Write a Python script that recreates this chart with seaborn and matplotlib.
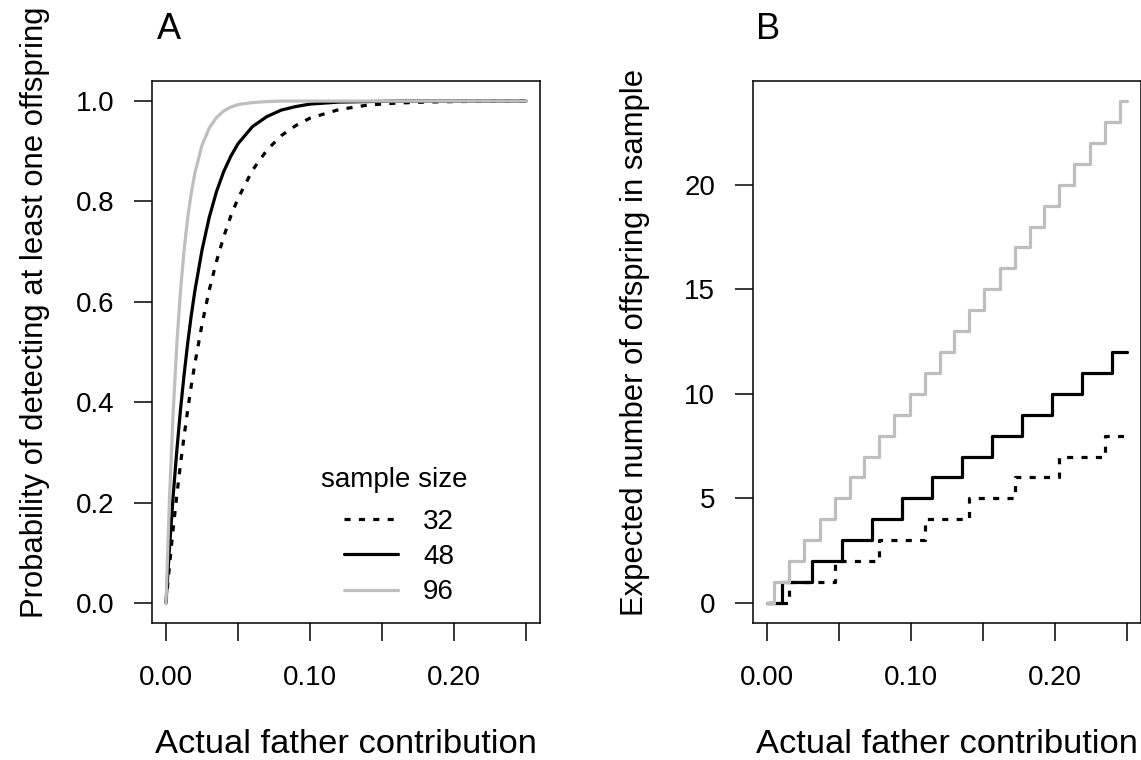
import numpy as np
import pandas as pd
import matplotlib
matplotlib.use("Agg")
import matplotlib.pyplot as plt
import seaborn as sns

# ---------------- data ----------------
sample_sizes = ["32", "48", "96"]

# Panel A: probability of detecting at least one offspring
contrib_a = [0, 0.0025, 0.005, 0.0075, 0.01, 0.0125, 0.015, 0.0175, 0.02, 0.025,
             0.03, 0.035, 0.04, 0.045, 0.05, 0.06, 0.07, 0.08, 0.09, 0.10,
             0.12, 0.14, 0.16, 0.18, 0.20, 0.25]
prob_32 = [0, 0.077, 0.148, 0.214, 0.275, 0.331, 0.383, 0.432, 0.476, 0.555,
           0.623, 0.680, 0.729, 0.771, 0.806, 0.862, 0.902, 0.931, 0.951, 0.966,
           0.983, 0.992, 0.996, 0.998, 0.999, 1.000]
prob_48 = [0, 0.113, 0.214, 0.303, 0.383, 0.453, 0.516, 0.572, 0.621, 0.703,
           0.768, 0.819, 0.859, 0.890, 0.915, 0.949, 0.969, 0.982, 0.989, 0.994,
           0.998, 0.999, 1.000, 1.000, 1.000, 1.000]
prob_96 = [0, 0.214, 0.382, 0.515, 0.619, 0.701, 0.766, 0.816, 0.856, 0.912,
           0.946, 0.967, 0.980, 0.988, 0.993, 0.997, 0.999, 1.000, 1.000, 1.000,
           1.000, 1.000, 1.000, 1.000, 1.000, 1.000]

# Panel B: expected number of offspring (step positions and levels)
steps_32 = [0.0156, 0.0469, 0.0781, 0.1094, 0.1406, 0.1719, 0.2031, 0.2344]
count_32 = [0, 1, 2, 3, 4, 5, 6, 7, 8]
steps_48 = [0.0104, 0.0313, 0.0521, 0.0729, 0.0938, 0.1146, 0.1354, 0.1563,
            0.1771, 0.1979, 0.2188, 0.2396]
count_48 = [0, 1, 2, 3, 4, 5, 6, 7, 8, 9, 10, 11, 12]
steps_96 = [0.0052, 0.0156, 0.0260, 0.0365, 0.0469, 0.0573, 0.0677, 0.0781,
            0.0885, 0.0990, 0.1094, 0.1198, 0.1302, 0.1406, 0.1510, 0.1615,
            0.1719, 0.1823, 0.1927, 0.2031, 0.2135, 0.2240, 0.2344, 0.2448]
count_96 = [0, 1, 2, 3, 4, 5, 6, 7, 8, 9, 10, 11, 12, 13, 14, 15, 16, 17, 18,
            19, 20, 21, 22, 23, 24]
contrib_min, contrib_max = 0.0, 0.25

xticks = [0.00, 0.05, 0.10, 0.15, 0.20, 0.25]
xtick_labels = ["0.00", "", "0.10", "", "0.20", ""]
yticks_a = [0.0, 0.2, 0.4, 0.6, 0.8, 1.0]
ytick_labels_a = ["0.0", "0.2", "0.4", "0.6", "0.8", "1.0"]
yticks_b = [0, 5, 10, 15, 20]
ytick_labels_b = ["0", "5", "10", "15", "20"]

# ---------------- styling ----------------
sns.set_theme(style="ticks")
plt.rcParams["font.family"] = ["Liberation Sans", "DejaVu Sans"]
plt.rcParams["text.color"] = "black"
plt.rcParams["axes.labelcolor"] = "black"

GRAY = "#BEBEBE"
styles = {
    "32": dict(color="black", linestyle=(0, (1.9, 2.6))),
    "48": dict(color="black", linestyle="-"),
    "96": dict(color=GRAY, linestyle="-"),
}
LW = 2.3
TICK_FS = 20
XLAB_FS = 24.8
YLAB_FS = 22.3
LEG_FS = 20

fig = plt.figure(figsize=(11.41, 7.6), dpi=100)
W, H = 1141, 760
ax_a = fig.add_axes([151.6 / W, 1 - 623 / H, 388.8 / W, 542 / H])
ax_b = fig.add_axes([752.6 / W, 1 - 623 / H, 388.8 / W, 542 / H])

# Panel A
df_a = pd.DataFrame({"x": contrib_a * 3,
                     "y": prob_32 + prob_48 + prob_96,
                     "n": ["32"] * len(contrib_a) + ["48"] * len(contrib_a) + ["96"] * len(contrib_a)})
for n in sample_sizes:
    sub = df_a[df_a["n"] == n]
    sns.lineplot(data=sub, x="x", y="y", ax=ax_a, estimator=None, lw=LW,
                 label=n, **styles[n])

# Panel B
step_data = {"32": (steps_32, count_32), "48": (steps_48, count_48), "96": (steps_96, count_96)}
for n in sample_sizes:
    st, ct = step_data[n]
    xs = [contrib_min] + st + [contrib_max]
    ys = ct + [ct[-1]]
    sub = pd.DataFrame({"x": xs, "y": ys})
    sns.lineplot(data=sub, x="x", y="y", ax=ax_b, estimator=None, sort=False,
                 lw=LW, drawstyle="steps-post", legend=False, **styles[n])

for ax in (ax_a, ax_b):
    ax.set_xlim(-0.01, 0.26)
    ax.set_xticks(xticks)
    ax.set_xticklabels(xtick_labels)
    for s in ax.spines.values():
        s.set_visible(True)
        s.set_linewidth(1.1)
        s.set_color("black")
    ax.tick_params(axis="both", direction="out", length=13, width=1.1,
                   color="black", labelcolor="black", labelsize=TICK_FS)
    ax.tick_params(axis="x", pad=17)
    ax.tick_params(axis="y", pad=14)
    ax.set_xlabel("Actual father contribution", fontsize=XLAB_FS, color="black")
    ax.xaxis.set_label_coords(0.5, -0.196)
    ax.grid(False)

ax_a.set_ylim(-0.04, 1.04)
ax_a.set_yticks(yticks_a)
ax_a.set_yticklabels(ytick_labels_a)
ax_a.set_ylabel("Probability of detecting at least one offspring", fontsize=YLAB_FS, color="black")
ax_a.yaxis.set_label_coords(-0.262, (623 - 312) / 542)

ax_b.set_ylim(-0.96, 24.96)
ax_b.set_yticks(yticks_b)
ax_b.set_yticklabels(ytick_labels_b)
ax_b.set_ylabel("Expected number of offspring in sample", fontsize=YLAB_FS, color="black")
ax_b.yaxis.set_label_coords(-0.264, (623 - 342) / 542)

leg = ax_a.legend(frameon=False, loc="center left",
                  bbox_to_anchor=((344 - 151.6) / 388.8, (623 - 557) / 542),
                  fontsize=LEG_FS, handlelength=1.94, handletextpad=0.9,
                  labelspacing=0.34, borderaxespad=0, borderpad=0)
ax_a.text((394 - 151.6) / 388.8, (623 - 480) / 542, "sample size",
          transform=ax_a.transAxes, ha="center", va="center", fontsize=LEG_FS)

fig.text(157 / W, 1 - 39 / H, "A", fontsize=26, ha="left", va="baseline")
fig.text(756 / W, 1 - 39 / H, "B", fontsize=26, ha="left", va="baseline")

fig.savefig("out.png", dpi=100, facecolor="white")
